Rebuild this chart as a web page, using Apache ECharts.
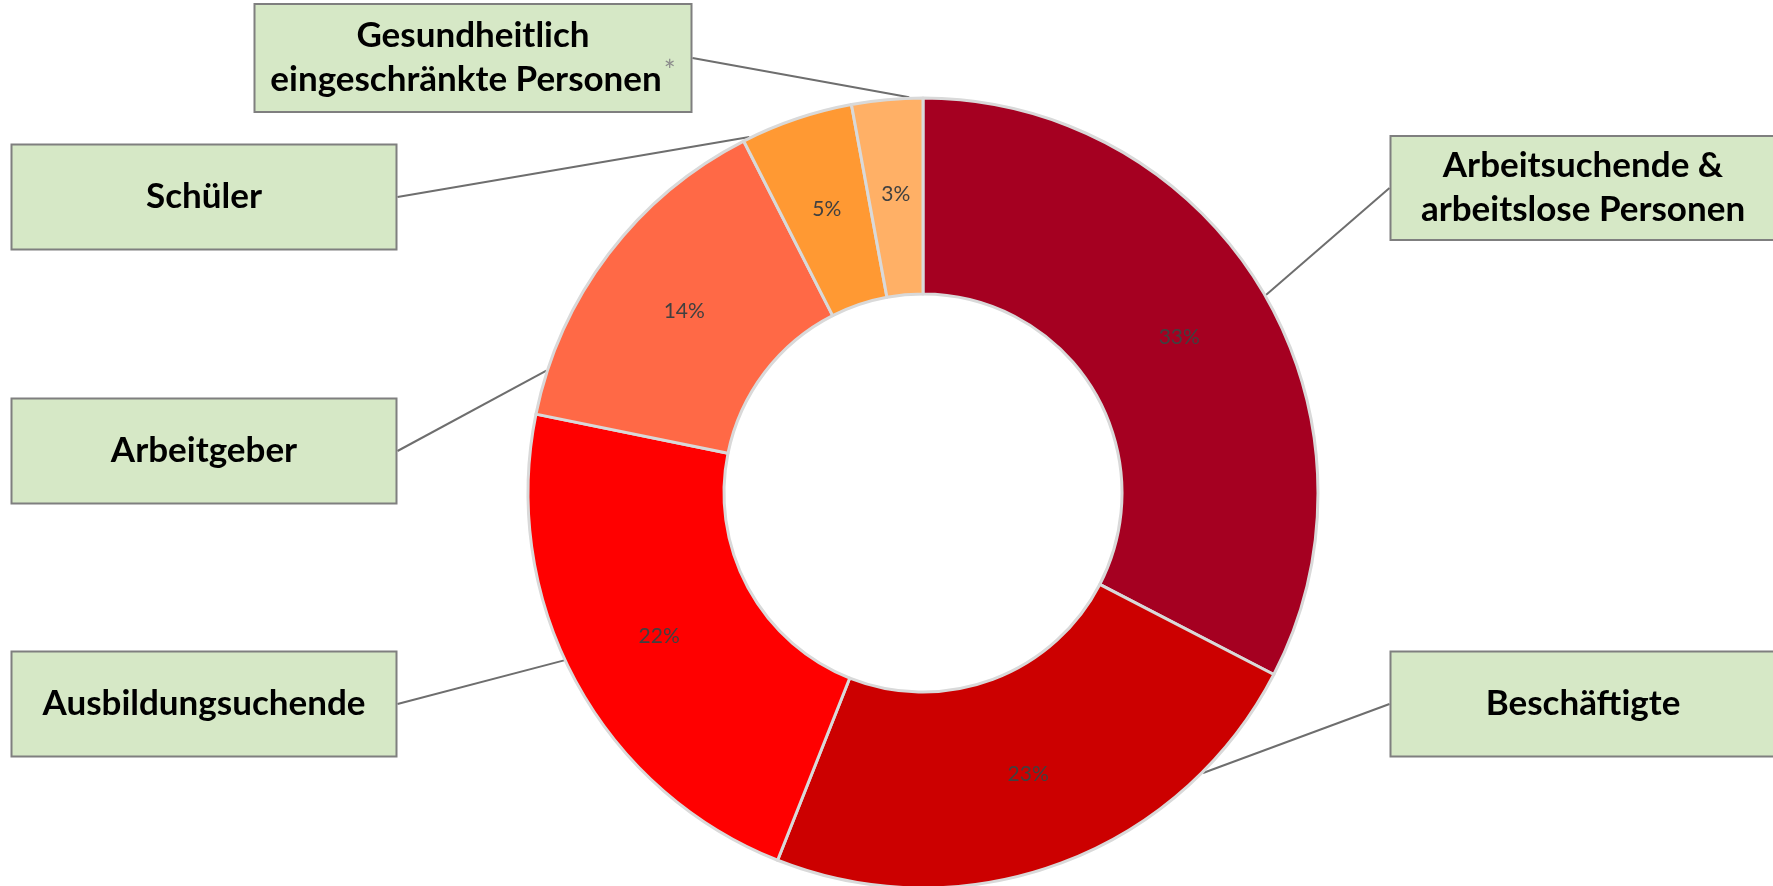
<!DOCTYPE html>
<html>
<head>
<meta charset="utf-8">
<script src="https://cdn.jsdelivr.net/npm/echarts@6/dist/echarts.min.js"></script>
<style>
html, body { margin: 0; padding: 0; background: #fff; }
#chart { width: 1773px; height: 886px; }
</style>
</head>
<body>
<div id="chart"></div>
<script>
// data, clockwise from 12 o'clock (shares in %, labels show them rounded)
const categories = [
    'Arbeitsuchende &\narbeitslose Personen',
    'Beschäftigte',
    'Ausbildungsuchende',
    'Arbeitgeber',
    'Schüler',
    'Gesundheitlich\neingeschränkte Personen'
]
const shares = [32.6, 23.4, 22.2, 14.3, 4.6, 2.9]
const footnotes = ['', '', '', '', '', '*']

const sliceColors = ['#A50021', '#CC0000', '#FF0000', '#FF6946', '#FF9933', '#FFB066']

// callout boxes: centre and outer size in px
const calloutBoxes = [
    { x: 1583, y: 188, w: 387, h: 106 },
    { x: 1583, y: 704, w: 387, h: 107 },
    { x: 204, y: 704, w: 387, h: 107 },
    { x: 204, y: 451, w: 387, h: 107 },
    { x: 204, y: 197, w: 387, h: 107 },
    { x: 473, y: 58, w: 439, h: 110 }
]
// where each leader line meets the ring, degrees clockwise from 12 o'clock
const leaderAngles = [60, 135, 245, 288, 334, 358]

const FONT = 'Lato, "Open Sans", sans-serif'
const LINE_H = 44
const BORDER = 2

const pieCenter = [923, 493]
const pieRadius = [199, 395]

const chart = echarts.init(document.getElementById('chart'))

const calloutData = categories.map((name, i) => {
    const box = calloutBoxes[i]
    const lines = name.split('\n').length
    const padV = (box.h - lines * LINE_H) / 2 - BORDER
    return {
        name,
        value: shares[i],
        label: { width: box.w - 2 * BORDER, padding: [padV, 0, padV, 0] }
    }
})

function leaderPoints(i) {
    const box = calloutBoxes[i]
    const a = (leaderAngles[i] * Math.PI) / 180
    const r = pieRadius[1] + 1
    const start = [pieCenter[0] + r * Math.sin(a), pieCenter[1] - r * Math.cos(a)]
    const ex = box.x > pieCenter[0] ? box.x - box.w / 2 : box.x + box.w / 2
    const end = [ex, box.y]
    return [start, end, end]
}

chart.setOption({
    animation: false,
    series: [
        {
            type: 'pie',
            center: pieCenter,
            radius: pieRadius,
            startAngle: 90,
            clockwise: true,
            silent: true,
            avoidLabelOverlap: false,
            data: categories.map((name, i) => ({ name, value: shares[i] })),
            itemStyle: {
                color: (p) => sliceColors[p.dataIndex],
                borderColor: '#D9D9D9',
                borderWidth: 3
            },
            label: {
                show: true,
                position: 'inside',
                formatter: (p) => Math.round(p.value) + '%',
                color: '#404040',
                fontFamily: FONT,
                fontSize: 21
            },
            labelLine: { show: false }
        },
        {
            type: 'pie',
            center: pieCenter,
            radius: pieRadius,
            startAngle: 90,
            clockwise: true,
            silent: true,
            avoidLabelOverlap: false,
            data: calloutData,
            itemStyle: { color: 'rgba(0,0,0,0)', borderWidth: 0 },
            label: {
                show: true,
                position: 'outside',
                formatter: (p) => {
                    const lines = p.name.split('\n').map((l) => '{t|' + l + '}')
                    const mark = footnotes[p.dataIndex]
                    if (mark) lines[lines.length - 1] += '{s|' + mark + '}'
                    return lines.join('\n')
                },
                backgroundColor: '#D6E8C6',
                borderColor: '#7F7F7F',
                borderWidth: BORDER,
                align: 'center',
                rich: {
                    t: {
                        fontFamily: FONT,
                        fontWeight: 'bold',
                        fontSize: 35,
                        lineHeight: LINE_H,
                        color: '#000'
                    },
                    s: {
                        fontFamily: FONT,
                        fontSize: 28,
                        lineHeight: LINE_H,
                        color: '#8C8C8C',
                        verticalAlign: 'top',
                        padding: [0, 0, 6, 2]
                    }
                }
            },
            labelLine: {
                show: true,
                length: 20,
                length2: 0,
                lineStyle: { color: '#6E6E6E', width: 2 }
            },
            labelLayout: (p) => {
                const box = calloutBoxes[p.dataIndex]
                return {
                    x: box.x,
                    y: box.y,
                    align: 'center',
                    verticalAlign: 'middle',
                    labelLinePoints: leaderPoints(p.dataIndex)
                }
            }
        }
    ]
})
</script>
</body>
</html>
